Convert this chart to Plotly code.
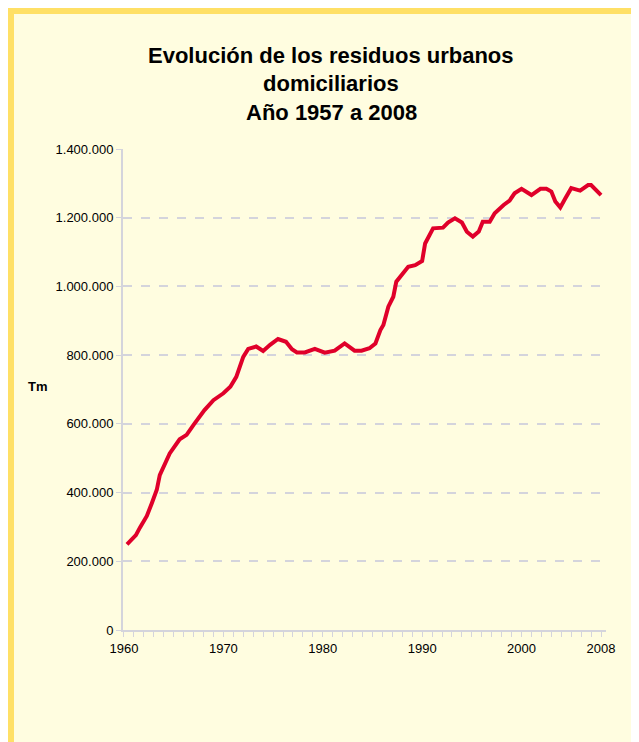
import plotly.graph_objects as go

# Toneladas de residuos urbanos domiciliarios
anios = [
    1960.3, 1961.2, 1961.6, 1962.3, 1962.8, 1963.3, 1963.6, 1964.1, 1964.6, 1965.6,
    1966.3, 1967.0, 1968.1, 1969.0, 1970.0, 1970.7, 1971.3, 1972.0, 1972.5, 1973.3,
    1974.0, 1974.7, 1975.5, 1976.3, 1976.9, 1977.4, 1978.2, 1979.2, 1980.2, 1981.2,
    1982.2, 1983.2, 1983.9, 1984.7, 1985.3, 1985.8, 1986.1, 1986.6, 1987.1, 1987.4,
    1988.3, 1988.6, 1989.3, 1990.0, 1990.3, 1991.1, 1992.1, 1992.6, 1993.3, 1994.0,
    1994.5, 1995.1, 1995.7, 1996.1, 1996.8, 1997.3, 1998.2, 1998.8, 1999.3, 2000.0,
    2001.0, 2001.9, 2002.5, 2003.0, 2003.4, 2003.9, 2004.4, 2005.0, 2005.9, 2006.7,
    2007.0, 2008.0,
]
toneladas = [
    249000, 276000, 298000, 332000, 369000, 408000, 451000, 480000, 514000, 555000,
    568000, 597000, 640000, 669000, 689000, 708000, 737000, 795000, 818000, 825000,
    812000, 830000, 847000, 839000, 817000, 808000, 808000, 818000, 807000, 813000,
    834000, 813000, 813000, 820000, 834000, 873000, 888000, 941000, 970000, 1014000,
    1048000, 1057000, 1062000, 1074000, 1125000, 1169000, 1171000, 1186000, 1198000, 1186000,
    1159000, 1145000, 1160000, 1188000, 1188000, 1213000, 1237000, 1250000, 1271000, 1284000,
    1266000, 1284000, 1284000, 1276000, 1247000, 1230000, 1256000, 1286000, 1279000, 1295000,
    1295000, 1266000,
]
etiquetas_x = [1960, 1970, 1980, 1990, 2000, 2008]
ticks_y = [0, 200000, 400000, 600000, 800000, 1000000, 1200000, 1400000]
titulo = ["Evolución de los residuos urbanos", "domiciliarios", "Año 1957 a 2008"]

# the page body has an 8px margin, so the figure sits at (8, 8)
OFF = 8
W, H = 639 - OFF, 742 - OFF
L, R, T, B = 123 - OFF, 33, 149 - OFF, 112
PW, PH = W - L - R, H - T - B

BG = "#FFFDE0"
BORDER = "#FFE066"
GRID = "#D4D4DC"
RED = "#E0002A"
FONT = "Liberation Sans, Arial, sans-serif"


# page pixel -> paper coords
def px_x(p):
    return (p - OFF - L) / PW


def px_y(p):
    return (H - B - (p - OFF)) / PH


fig = go.Figure()
fig.add_trace(go.Scatter(
    x=anios, y=toneladas, mode="lines",
    line=dict(color=RED, width=4),
    showlegend=False,
))

# marco amarillo (arriba e izquierda)
shapes = [
    dict(type="rect", xref="paper", yref="paper", x0=px_x(OFF), x1=px_x(OFF + W), y0=px_y(OFF), y1=px_y(14),
         fillcolor=BORDER, line_width=0, layer="below"),
    dict(type="rect", xref="paper", yref="paper", x0=px_x(OFF), x1=px_x(14), y0=px_y(OFF), y1=px_y(OFF + H),
         fillcolor=BORDER, line_width=0, layer="below"),
]

annotations = []
for i, linea in enumerate(titulo):
    annotations.append(dict(
        text=f"<b>{linea}</b>", xref="paper", yref="paper",
        x=px_x(331), y=px_y(55 + i * 28.5), xanchor="center", yanchor="middle",
        showarrow=False, font=dict(family=FONT, size=22, color="black"),
    ))
annotations.append(dict(
    text="<b>Tm</b>", xref="paper", yref="paper", x=px_x(38), y=px_y(386),
    xanchor="center", yanchor="middle", showarrow=False,
    font=dict(family=FONT, size=13, color="black"),
))

fig.update_layout(
    width=W, height=H,
    margin=dict(l=L, r=R, t=T, b=B),
    paper_bgcolor=BG, plot_bgcolor=BG,
    separators=",.",
    font=dict(family=FONT, size=13, color="black"),
    shapes=shapes,
    annotations=annotations,
    xaxis=dict(
        range=[1959.9, 2008.5],
        tickmode="array", tickvals=etiquetas_x,
        ticks="outside", ticklen=5, tickcolor=GRID, tickwidth=1,
        minor=dict(tickmode="linear", tick0=1960, dtick=1, ticks="outside",
                   ticklen=5, tickcolor=GRID, tickwidth=1, showgrid=False),
        showgrid=False, zeroline=False,
        showline=True, linecolor=GRID, linewidth=2,
        tickfont=dict(size=13),
    ),
    yaxis=dict(
        range=[0, 1400000],
        tickmode="array", tickvals=ticks_y, tickformat=",d",
        ticks="outside", ticklen=5, tickcolor=GRID,
        showgrid=True, gridcolor=GRID, griddash="dash", gridwidth=1.5,
        zeroline=False,
        showline=True, linecolor=GRID, linewidth=2,
        tickfont=dict(size=13),
    ),
)

fig.write_html("out.html")
